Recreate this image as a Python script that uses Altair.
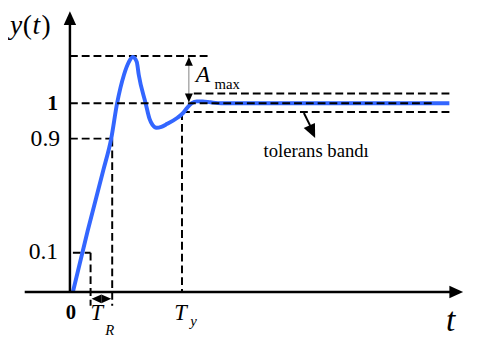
import altair as alt
import pandas as pd

# ---------------- data (schematic units: t = time, y = response / final value) -------------
curve_t = [0.12, 0.72, 1.36, 1.68, 1.92, 2.2, 2.4, 2.56, 2.72, 2.8, 3.08, 3.24, 3.36, 3.52,
           3.72, 3.96, 4.36, 4.6, 4.76, 4.96, 5.16, 5.4, 5.72, 6.16, 15.44]
curve_y = [0.0, 0.323, 0.646, 0.8125, 1.0, 1.151, 1.219, 1.245, 1.219, 1.151, 1.0, 0.917,
           0.885, 0.870, 0.875, 0.891, 0.922, 0.948, 0.974, 1.0, 1.010, 1.010, 1.005, 1.0, 1.0]

# key levels (as drawn in the schematic)
LEVEL_PEAK = 1.25
LEVEL_ONE = 1.0
LEVEL_90 = 0.8125
LEVEL_10 = 0.2083
TOL_HI = 1.052
TOL_LO = 0.953
# key times
T_10 = 0.84
T_90 = 1.72
T_Y = 4.56
T_AMAX = 4.84
T_END = 15.44

# dashed helper segments
seg_t = [0.0, 0.0, T_90, 0.12, T_10, 5.04, T_Y, T_Y]
seg_y = [LEVEL_PEAK, LEVEL_90, LEVEL_90, LEVEL_10, LEVEL_10, TOL_HI, TOL_LO, TOL_LO]
seg_t2 = [5.68, T_90, T_90, T_10, T_10, T_END, T_END, T_Y]
seg_y2 = [LEVEL_PEAK, LEVEL_90, -0.073, LEVEL_10, -0.073, TOL_HI, TOL_LO, 0.0]

# tick labels on the y axis
tick_labels = ["1", "0.9", "0.1"]

# ---------------- layout constants -------------
W, H = 471, 333
X_DOM = [-63 / 25, (W - 63) / 25]
Y_DOM = [(294 - 341) / 192, 286 / 192]
FONT = "Liberation Serif, Times New Roman, serif"
BLUE = "#3366ff"

xs = alt.Scale(domain=X_DOM, nice=False, zero=False)
ys = alt.Scale(domain=Y_DOM, nice=False, zero=False)


def X(f="t"):
    return alt.X(f"{f}:Q", scale=xs, axis=None)


def Y(f="y"):
    return alt.Y(f"{f}:Q", scale=ys, axis=None)


curve_df = pd.DataFrame({"t": curve_t, "y": curve_y})
seg_df = pd.DataFrame({"t": seg_t, "y": seg_y, "t2": seg_t2, "y2": seg_y2})

dashed = alt.Chart(seg_df).mark_rule(color="black", strokeWidth=2, strokeDash=[8, 4]).encode(
    x=X(), y=Y(), x2="t2:Q", y2="y2:Q")

curve = alt.Chart(curve_df).mark_line(color=BLUE, strokeWidth=4, interpolate="monotone").encode(
    x=X(), y=Y())

one_df = pd.DataFrame({"t": [0.0], "y": [LEVEL_ONE], "t2": [14.76], "y2": [LEVEL_ONE]})
one_line = alt.Chart(one_df).mark_rule(color="black", strokeWidth=2, strokeDash=[8, 4]).encode(
    x=X(), y=Y(), x2="t2:Q", y2="y2:Q")

axes_df = pd.DataFrame({"t": [-1.84, 0.0], "y": [0.0, 0.0], "t2": [15.6, 0.0], "y2": [0.0, 1.44]})
axes = alt.Chart(axes_df).mark_rule(color="black", strokeWidth=2.5).encode(
    x=X(), y=Y(), x2="t2:Q", y2="y2:Q")

amax_df = pd.DataFrame({"t": [T_AMAX], "y": [1.245], "t2": [T_AMAX], "y2": [1.0]})
amax_line = alt.Chart(amax_df).mark_rule(color="#808080", strokeWidth=1).encode(
    x=X(), y=Y(), x2="t2:Q", y2="y2:Q")

tol_df = pd.DataFrame({"t": [9.52], "y": [0.948], "t2": [9.8], "y2": [0.875]})
tol_line = alt.Chart(tol_df).mark_rule(color="black", strokeWidth=2).encode(
    x=X(), y=Y(), x2="t2:Q", y2="y2:Q")

UP = "M 0 -1 L 0.9 1 L -0.9 1 Z"
DOWN = "M 0 1 L 0.9 -1 L -0.9 -1 Z"
RIGHT = "M 1 0 L -1 -0.9 L -1 0.9 Z"
LEFT = "M -1 0 L 1 -0.9 L 1 0.9 Z"


def head(t, y, shape, size, angle=0):
    df = pd.DataFrame({"t": [t], "y": [y]})
    return alt.Chart(df).mark_point(shape=shape, size=size, filled=True, color="black",
                                    opacity=1, strokeWidth=0, angle=angle).encode(x=X(), y=Y())


heads = [
    head(0.0, 1.4505, UP, 196),
    head(15.72, 0.0, RIGHT, 196),
    head(T_AMAX, 1.2214, UP, 81),
    head(T_AMAX, 1.0286, DOWN, 81),
    head(1.08, -0.0365, LEFT, 100),
    head(1.48, -0.0365, RIGHT, 100),
    head(9.86, 0.849, DOWN, 196, angle=335),
]


def label(texts, ts, yv, size, style="normal", weight="normal", align="left"):
    df = pd.DataFrame({"t": ts, "y": yv, "txt": texts})
    return alt.Chart(df).mark_text(font=FONT, fontSize=size, fontStyle=style, fontWeight=weight,
                                   align=align, baseline="alphabetic", color="black").encode(
        x=X(), y=Y(), text="txt:N")


texts = [
    label([tick_labels[0]], [-0.48], [0.9635], 22, weight="bold", align="right"),
    label(tick_labels[1:], [-0.4, -0.48], [0.7708, 0.177], 24, align="right"),
    label(["0"], [0.04], [-0.1458], 21, weight="bold", align="center"),
    label(["T", "T"], [0.84, 4.24], [-0.151, -0.151], 23, style="italic"),
    label(["R", "y"], [1.44, 4.9], [-0.229, -0.182], 15, style="italic"),
    label(["t"], [15.3], [-0.2083], 34, style="italic"),
    label(["y", "t"], [-2.44, -1.52], [1.3646, 1.3646], 28, style="italic"),
    label(["(", ")"], [-1.92, -1.16], [1.3646, 1.3646], 28),
    label(["A"], [5.12], [1.1146], 24, style="italic"),
    label(["max"], [5.88], [1.0729], 15),
    label(["tolerans bandı"], [7.88], [0.7135], 19),
]

chart = alt.layer(dashed, curve, one_line, axes, amax_line, tol_line, *heads, *texts).properties(
    width=W, height=H, padding=0, autosize=alt.AutoSizeParams(type="none")
).configure_view(stroke=None)

chart.save("out.html", embed_options={"renderer": "svg", "actions": False})
